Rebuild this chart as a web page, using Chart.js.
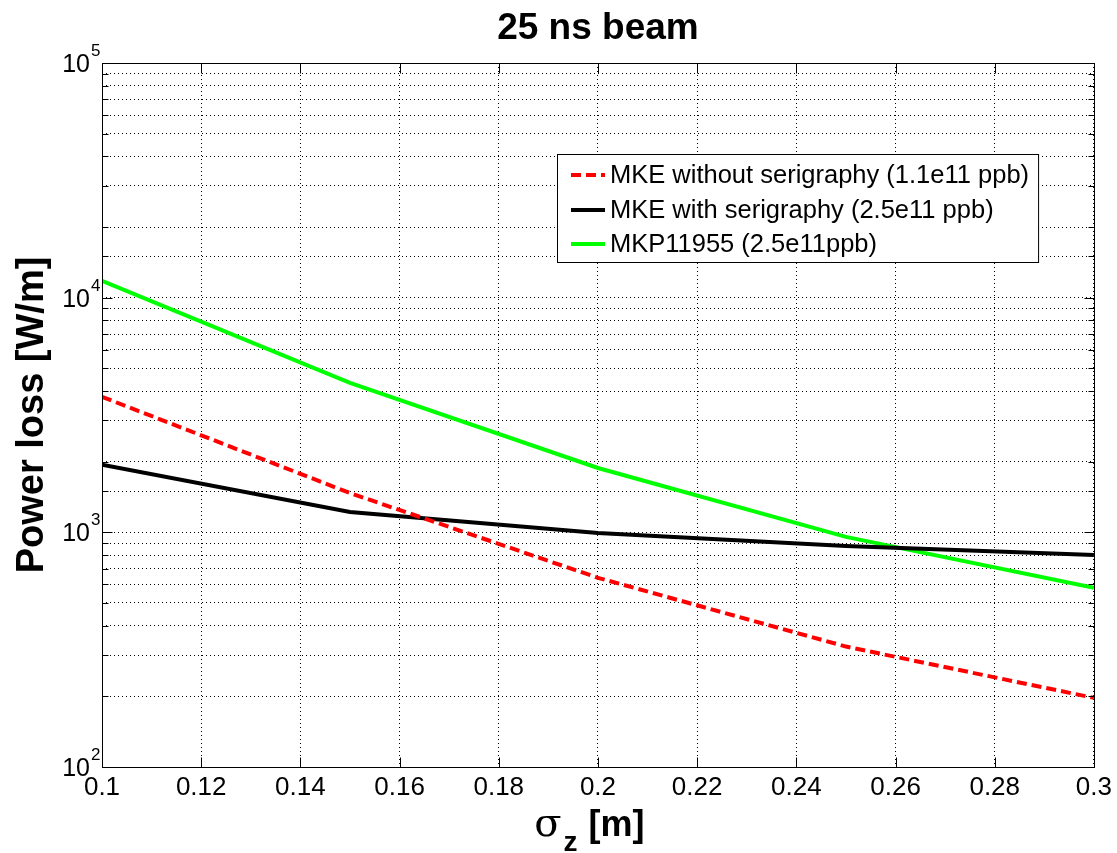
<!DOCTYPE html>
<html><head><meta charset="utf-8">
<script src="https://cdn.jsdelivr.net/npm/chart.js@4"></script>
<style>html,body{margin:0;padding:0;background:#fff;}#wrap{width:1117px;height:853px;}</style>
</head><body><div id="wrap"><canvas id="c" width="1117" height="853"></canvas></div>
<script>
// ---- data ----
const sigmaZ = [0.1, 0.15, 0.2, 0.25, 0.3];
const mkeWithout = [3780, 1470, 640, 326, 197];
const mkeWith = [1940, 1222, 994, 875, 801];
const mkp11955 = [11800, 4330, 1880, 956, 580];
const seriesLabels = ['MKE without serigraphy (1.1e11 ppb)', 'MKE with serigraphy (2.5e11 ppb)', 'MKP11955 (2.5e11ppb)'];
const xTickLabels = ['0.1','0.12','0.14','0.16','0.18','0.2','0.22','0.24','0.26','0.28','0.3'];
const yDecadeExps = [2, 3, 4, 5];
const titleText = '25 ns beam';
const yTitleText = 'Power loss [W/m]';

const FONT = '"Liberation Sans", Arial, Helvetica, sans-serif';
const toPts = arr => sigmaZ.map((x, i) => ({x: x, y: arr[i]}));

const framePlugin = {
  id: 'frame',
  afterDatasetsDraw(chart) {
    const ctx = chart.ctx, a = chart.chartArea;
    const xs = chart.scales.x, ys = chart.scales.y;
    ctx.save();
    ctx.strokeStyle = '#000'; ctx.lineWidth = 1; ctx.setLineDash([]);
    const L = Math.round(a.left) + 0.5, R = Math.round(a.right) + 0.5, T = Math.round(a.top) + 0.5, B = Math.round(a.bottom) + 0.5;
    ctx.strokeRect(L, T, R - L, B - T);
    ctx.beginPath();
    xs.ticks.forEach(t => {
      const px = Math.round(xs.getPixelForValue(t.value)) + 0.5;
      ctx.moveTo(px, B); ctx.lineTo(px, B - 10);
      ctx.moveTo(px, T); ctx.lineTo(px, T + 10);
    });
    ys.ticks.forEach(t => {
      const py = Math.round(ys.getPixelForValue(t.value)) + 0.5;
      const lg = Math.log10(t.value);
      const len = Math.abs(lg - Math.round(lg)) < 1e-6 ? 10 : 6;
      ctx.moveTo(L, py); ctx.lineTo(L + len, py);
      ctx.moveTo(R, py); ctx.lineTo(R - len, py);
    });
    ctx.stroke();
    ctx.restore();
  },
  afterDraw(chart) {
    const ctx = chart.ctx, a = chart.chartArea, ys = chart.scales.y;
    ctx.save();
    ctx.fillStyle = '#000';
    // title centred over the plot area
    ctx.font = 'bold 37px ' + FONT;
    ctx.textAlign = 'center'; ctx.textBaseline = 'alphabetic';
    ctx.fillText(titleText, (a.left + a.right) / 2, 39);
    // y tick labels with superscript exponents
    yDecadeExps.forEach(e => {
      const py = ys.getPixelForValue(Math.pow(10, e));
      ctx.font = '25px ' + FONT;
      ctx.textAlign = 'right'; ctx.textBaseline = 'middle';
      ctx.fillText('10', a.left - 12, py + 2);
      ctx.font = '17px ' + FONT;
      ctx.textAlign = 'left'; ctx.textBaseline = 'alphabetic';
      ctx.fillText(String(e), a.left - 11, py - 7);
    });
    // x axis title: sigma with subscript z
    const cx = (a.left + a.right) / 2 - 10;
    const base = 836;
    ctx.textAlign = 'left'; ctx.textBaseline = 'alphabetic';
    ctx.font = '40px "DejaVu Serif", "Liberation Serif", serif';
    const sw = ctx.measureText('σ').width;
    ctx.font = 'bold 28px ' + FONT;
    const zw = ctx.measureText('z').width;
    ctx.font = 'bold 36px ' + FONT;
    const mw = ctx.measureText(' [m]').width;
    let x0 = cx - (sw + zw + mw) / 2;
    ctx.font = '40px "DejaVu Serif", "Liberation Serif", serif';
    ctx.fillText('σ', x0, base);
    ctx.font = 'bold 28px ' + FONT;
    ctx.fillText('z', x0 + sw + 2, base + 15);
    ctx.font = 'bold 36px ' + FONT;
    ctx.fillText(' [m]', x0 + sw + zw + 3, base);
    // legend
    const bx = 557, by = 154, rowY = [175, 210, 244];
    ctx.font = '25.5px ' + FONT;
    let maxW = 0;
    chart.data.datasets.forEach(d => { maxW = Math.max(maxW, ctx.measureText(d.label).width); });
    const bw = 610 - bx + maxW + 9, bh = 108;
    ctx.fillStyle = '#fff';
    ctx.fillRect(bx, by, bw, bh);
    ctx.strokeStyle = '#000'; ctx.lineWidth = 1;
    ctx.strokeRect(bx + 0.5, by + 0.5, bw, bh);
    chart.data.datasets.forEach((d, i) => {
      ctx.save();
      ctx.strokeStyle = d.borderColor; ctx.lineWidth = d.borderWidth;
      ctx.setLineDash(d.borderDash || []);
      ctx.beginPath(); ctx.moveTo(571, rowY[i]); ctx.lineTo(605, rowY[i]); ctx.stroke();
      ctx.restore();
      ctx.fillStyle = '#000'; ctx.textBaseline = 'middle'; ctx.textAlign = 'left';
      ctx.fillText(d.label, 610, rowY[i] + 1);
    });
    ctx.restore();
  }
};

new Chart(document.getElementById('c'), {
  type: 'line',
  data: {
    datasets: [
      {label: seriesLabels[0], data: toPts(mkeWithout), borderColor: '#ff0000', borderWidth: 4, borderDash: [10, 5], pointRadius: 0, fill: false, tension: 0},
      {label: seriesLabels[1], data: toPts(mkeWith), borderColor: '#000000', borderWidth: 4, pointRadius: 0, fill: false, tension: 0},
      {label: seriesLabels[2], data: toPts(mkp11955), borderColor: '#00ff00', borderWidth: 4, pointRadius: 0, fill: false, tension: 0}
    ]
  },
  options: {
    responsive: false, animation: false, devicePixelRatio: 1,
    layout: {padding: {left: 0, right: 22, top: 63, bottom: 0}},
    plugins: {
      legend: {display: false},
      tooltip: {enabled: false},
      title: {display: false}
    },
    scales: {
      x: {
        type: 'linear', min: 0.1, max: 0.3,
        afterBuildTicks: s => { s.ticks = xTickLabels.map(v => ({value: parseFloat(v)})); },
        ticks: {callback: (v, i) => xTickLabels[i], color: '#000', font: {family: FONT, size: 26}, padding: 5, maxRotation: 0, autoSkip: false},
        grid: {color: '#000', lineWidth: 1, drawTicks: false},
        border: {display: false, dash: [1, 3]},
        afterFit: s => { s.height = 86; }
      },
      y: {
        type: 'logarithmic', min: 100, max: 100000,
        ticks: {display: false},
        grid: {color: '#000', lineWidth: 1, drawTicks: false},
        border: {display: false, dash: [1, 3]},
        title: {display: true, text: yTitleText, color: '#000', font: {family: FONT, size: 38, weight: 'bold', lineHeight: 1}, padding: {top: 14, bottom: 0}},
        afterFit: s => { s.width = 102; }
      }
    }
  },
  plugins: [framePlugin]
});
</script></body></html>
